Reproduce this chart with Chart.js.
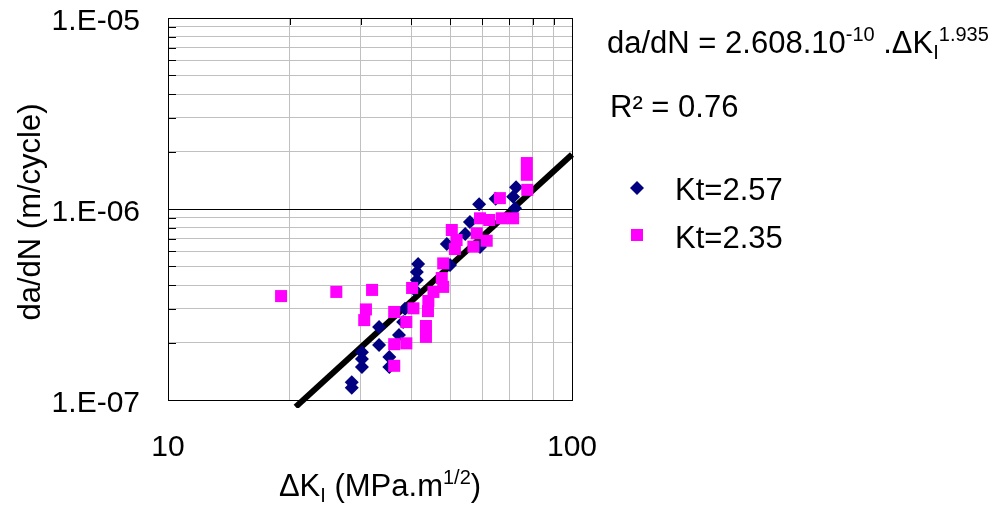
<!DOCTYPE html>
<html>
<head>
<meta charset="utf-8">
<title>da/dN vs Delta K</title>
<script src="https://cdn.jsdelivr.net/npm/chart.js@4.4.1/dist/chart.umd.min.js"></script>
<style>
  html, body { margin: 0; padding: 0; background: #ffffff; }
  #wrap { width: 1001px; height: 506px; }
</style>
</head>
<body>
<div id="wrap"><canvas id="chart-crack" width="1001" height="506"></canvas></div>
<script>
'use strict';

// ===== Datos =====
var kt257DeltaK = [28.5, 28.5, 30.2, 30.2, 30.2, 33.3, 33.3, 35.3, 35.3, 37.3, 38.2, 38.6,
  41.6, 41.3, 41.3, 40.6, 49.0, 49.9, 54.4, 55.9, 58.9, 64.7, 71.5, 72.7, 72.3, 59.2];
var kt257Rate = [1.24e-7, 1.16e-7, 1.78e-7, 1.64e-7, 1.49e-7, 2.41e-7, 1.94e-7, 1.68e-7, 1.49e-7, 2.19e-7, 2.56e-7, 3.00e-7,
  5.15e-7, 4.68e-7, 4.25e-7, 3.81e-7, 6.56e-7, 5.09e-7, 7.40e-7, 8.55e-7, 1.06e-6, 1.13e-6, 1.16e-6, 1.30e-6, 1.01e-6, 6.32e-7];

var kt235DeltaK = [19.05, 26.1, 32.0, 30.9, 30.6, 36.3, 40.2, 36.3, 36.3, 38.9, 38.9, 40.5,
  43.5, 43.5, 44.1, 44.0, 45.4, 47.6, 48.0, 48.0, 50.4, 51.8, 51.3, 58.1, 57.0, 61.5,
  59.2, 62.4, 66.3, 67.0, 71.5, 77.5, 77.3, 77.3];
var kt235Rate = [3.50e-7, 3.68e-7, 3.77e-7, 2.98e-7, 2.62e-7, 2.89e-7, 3.86e-7, 1.96e-7, 1.51e-7, 2.56e-7, 1.98e-7, 3.02e-7,
  2.44e-7, 2.14e-7, 3.30e-7, 2.92e-7, 3.68e-7, 4.35e-7, 3.91e-7, 5.19e-7, 7.76e-7, 6.88e-7, 6.17e-7, 7.46e-7, 6.35e-7, 6.82e-7,
  8.94e-7, 8.76e-7, 1.14e-6, 8.94e-7, 8.94e-7, 1.26e-6, 1.74e-6, 1.51e-6];

// Recta de ajuste (extremos)
var fitDeltaK = [20.7, 100];
var fitRate = [9.2e-8, 1.93e-6];

// Ticks de los ejes
var xTickValues = [10, 20, 30, 40, 50, 60, 70, 80, 90, 100];
var xTickLabels = ['10', '', '', '', '', '', '', '', '', '100'];
var yTickValues = [1e-7, 2e-7, 3e-7, 4e-7, 5e-7, 6e-7, 7e-7, 8e-7, 9e-7,
  1e-6, 2e-6, 3e-6, 4e-6, 5e-6, 6e-6, 7e-6, 8e-6, 9e-6, 1e-5];
var yTickLabels = ['1.E-07', '', '', '', '', '', '', '', '',
  '1.E-06', '', '', '', '', '', '', '', '', '1.E-05'];

var seriesNames = ['Kt=2.57', 'Kt=2.35'];

var FONT = '"Liberation Sans", Arial, sans-serif';
var NAVY = '#000080';
var MAGENTA = '#ff00ff';
var GRID_GREY = '#c0c0c0';

function toPoints(xs, ys) {
  var pts = [];
  for (var i = 0; i < xs.length; i++) {
    pts.push({ x: xs[i], y: ys[i] });
  }
  return pts;
}

// Texto con sub/superindices: partes [texto, tamano, desplazamiento vertical]
function drawRich(ctx, x, y, parts) {
  var cx = x;
  for (var i = 0; i < parts.length; i++) {
    var p = parts[i];
    ctx.font = p[1] + 'px ' + FONT;
    ctx.fillText(p[0], cx, y + p[2]);
    cx += ctx.measureText(p[0]).width;
  }
  return cx;
}

function richWidth(ctx, parts) {
  var w = 0;
  for (var i = 0; i < parts.length; i++) {
    ctx.font = parts[i][1] + 'px ' + FONT;
    w += ctx.measureText(parts[i][0]).width;
  }
  return w;
}

// Marcas cortas en bordes, titulos, ecuacion y leyenda
var decorPlugin = {
  id: 'decor',
  beforeDatasetsDraw: function (chart) {
    var ctx = chart.ctx;
    var area = chart.chartArea;
    var xs = chart.scales.x;
    var ys = chart.scales.y;
    ctx.save();
    ctx.strokeStyle = '#000000';
    ctx.lineWidth = 1;
    ctx.beginPath();
    for (var i = 0; i < yTickValues.length; i++) {
      var py = Math.round(ys.getPixelForValue(yTickValues[i])) + 0.5;
      ctx.moveTo(area.left, py);
      ctx.lineTo(area.left + 8, py);
    }
    for (var j = 0; j < xTickValues.length; j++) {
      var px = Math.round(xs.getPixelForValue(xTickValues[j])) + 0.5;
      ctx.moveTo(px, area.top);
      ctx.lineTo(px, area.top + 7);
    }
    ctx.stroke();
    ctx.restore();
  },
  afterDraw: function (chart) {
    var ctx = chart.ctx;
    ctx.save();
    ctx.fillStyle = '#000000';
    ctx.textBaseline = 'alphabetic';
    ctx.textAlign = 'left';

    // Titulo eje Y
    ctx.save();
    ctx.translate(40, 212);
    ctx.rotate(-Math.PI / 2);
    ctx.textAlign = 'center';
    ctx.font = '31px ' + FONT;
    ctx.fillText('da/dN (m/cycle)', 0, 0);
    ctx.restore();

    // Titulo eje X
    var xTitle = [['\u0394K', 31, 0], ['I', 20, 6], [' (MPa.m', 31, 0], ['1/2', 20, -12], [')', 31, 0]];
    var xw = richWidth(ctx, xTitle);
    drawRich(ctx, 380 - xw / 2, 496, xTitle);

    // Ecuacion y R2
    drawRich(ctx, 607, 53, [['da/dN = 2.608.10', 31, 0], ['-10', 20, -12], [' .\u0394K', 31, 0], ['I', 20, 6], ['1.935', 20, -12]]);
    drawRich(ctx, 610, 117, [['R\u00b2 = 0.76', 31, 0]]);

    // Leyenda
    ctx.fillStyle = NAVY;
    ctx.beginPath();
    ctx.moveTo(637, 181);
    ctx.lineTo(644, 188);
    ctx.lineTo(637, 195);
    ctx.lineTo(630, 188);
    ctx.closePath();
    ctx.fill();
    ctx.fillStyle = MAGENTA;
    ctx.fillRect(631, 229, 12, 12);
    ctx.fillStyle = '#000000';
    ctx.font = '31px ' + FONT;
    ctx.fillText(seriesNames[0], 675, 200);
    ctx.fillText(seriesNames[1], 675, 248);
    ctx.restore();
  }
};

function gridColor(values, strong) {
  return function (c) {
    if (!c.tick) return GRID_GREY;
    for (var i = 0; i < strong.length; i++) {
      if (Math.abs(c.tick.value - strong[i]) / strong[i] < 1e-6) return '#000000';
    }
    return GRID_GREY;
  };
}

var ctx = document.getElementById('chart-crack').getContext('2d');
var chart = new Chart(ctx, {
  type: 'scatter',
  data: {
    datasets: [{
      label: seriesNames[1],
      data: toPoints(kt235DeltaK, kt235Rate),
      pointStyle: 'rect',
      pointRadius: 8.5,
      pointHoverRadius: 8.5,
      backgroundColor: MAGENTA,
      borderColor: MAGENTA,
      borderWidth: 0,
      order: 0
    }, {
      label: seriesNames[0],
      data: toPoints(kt257DeltaK, kt257Rate),
      pointStyle: 'rectRot',
      pointRadius: 7,
      pointHoverRadius: 7,
      backgroundColor: NAVY,
      borderColor: NAVY,
      borderWidth: 0,
      order: 1
    }, {
      type: 'line',
      label: 'fit',
      data: toPoints(fitDeltaK, fitRate),
      showLine: true,
      borderColor: '#000000',
      borderWidth: 6,
      pointRadius: 0,
      fill: false,
      clip: { left: 0, top: 0, right: 3, bottom: 8 },
      order: 2
    }]
  },
  options: {
    responsive: false,
    animation: false,
    devicePixelRatio: 1,
    layout: { padding: { top: 18, right: 429, left: 0, bottom: 0 } },
    plugins: {
      legend: { display: false },
      tooltip: { enabled: false }
    },
    scales: {
      x: {
        type: 'logarithmic',
        min: 10,
        max: 100,
        afterBuildTicks: function (scale) {
          scale.ticks = xTickValues.map(function (v) { return { value: v }; });
        },
        afterFit: function (scale) { scale.height = 106; },
        ticks: {
          autoSkip: false,
          maxRotation: 0,
          padding: 30,
          color: '#000000',
          font: { family: FONT, size: 30 },
          callback: function (value, index) { return xTickLabels[index]; }
        },
        grid: {
          drawTicks: false,
          lineWidth: 1,
          color: gridColor(xTickValues, [100])
        },
        border: { display: true, color: '#000000', width: 1 }
      },
      y: {
        type: 'logarithmic',
        min: 1e-7,
        max: 1e-5,
        afterBuildTicks: function (scale) {
          scale.ticks = yTickValues.map(function (v) { return { value: v }; });
        },
        afterFit: function (scale) { scale.width = 168; },
        ticks: {
          autoSkip: false,
          padding: 0,
          labelOffset: 4,
          color: '#000000',
          font: { family: FONT, size: 30 },
          callback: function (value, index) { return yTickLabels[index]; }
        },
        grid: {
          drawTicks: true,
          tickLength: 28,
          tickColor: 'rgba(0,0,0,0)',
          lineWidth: 1,
          color: gridColor(yTickValues, [1e-6, 1e-5])
        },
        border: { display: true, color: '#000000', width: 1 }
      }
    }
  },
  plugins: [decorPlugin]
});
</script>
</body>
</html>
